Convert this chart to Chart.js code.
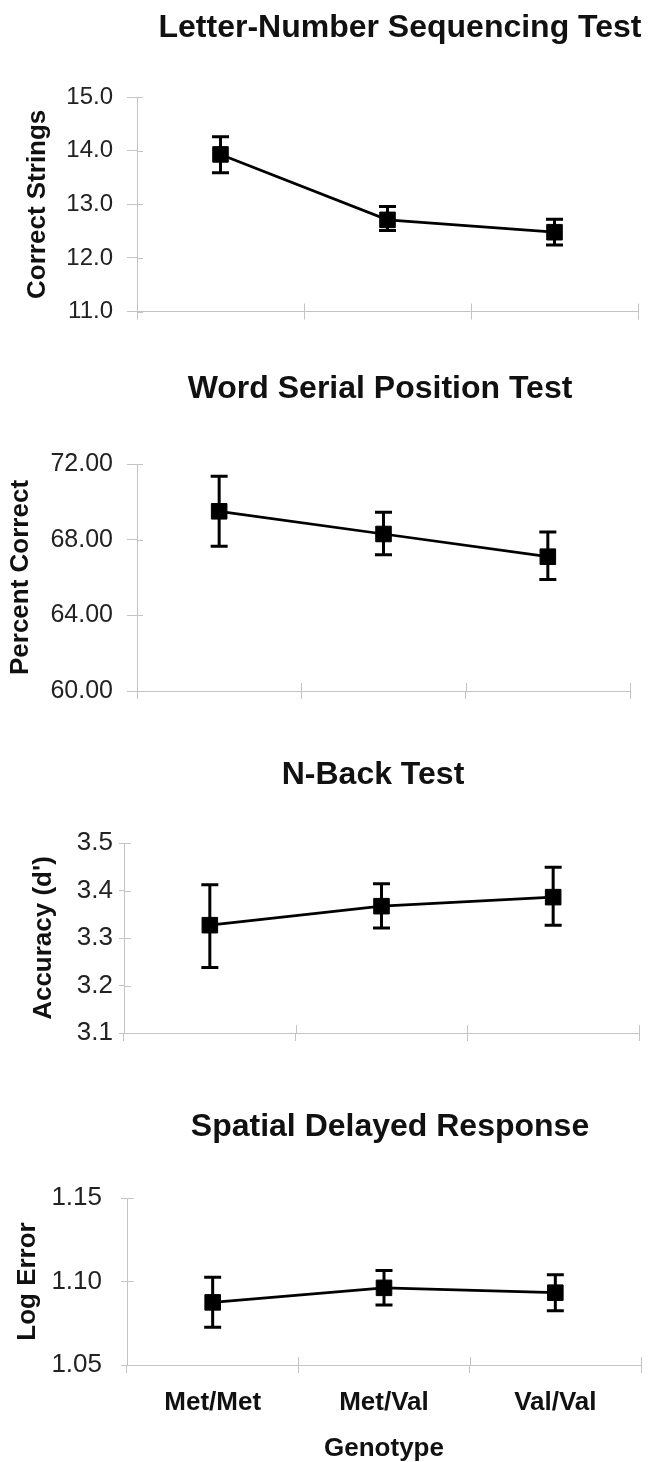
<!DOCTYPE html>
<html>
<head>
<meta charset="utf-8">
<script src="https://cdn.jsdelivr.net/npm/chart.js@4.4.0/dist/chart.umd.min.js"></script>
<style>
  html, body { margin: 0; padding: 0; background: #fff; }
  #wrap { position: relative; width: 653px; height: 1462px; overflow: hidden; }
  canvas { position: absolute; left: 0; }
</style>
</head>
<body>
<div id="wrap">
  <canvas id="lnsChart" width="653" height="340" style="top:0px"></canvas>
  <canvas id="wspChart" width="653" height="370" style="top:350px"></canvas>
  <canvas id="nbackChart" width="653" height="340" style="top:720px"></canvas>
  <canvas id="sdrChart" width="653" height="402" style="top:1060px"></canvas>
</div>
<script>
const genotypes = ['Met/Met', 'Met/Val', 'Val/Val'];

// Letter-Number Sequencing Test (correct strings)
const lnsMean = [13.93, 12.71, 12.48];
const lnsLow  = [13.59, 12.51, 12.24];
const lnsHigh = [14.26, 12.96, 12.72];

// Word Serial Position Test (percent correct)
const wspMean = [69.5, 68.3, 67.1];
const wspLow  = [67.65, 67.2, 65.9];
const wspHigh = [71.35, 69.45, 68.4];

// N-Back Test (accuracy d')
const nbackMean = [3.327, 3.367, 3.386];
const nbackLow  = [3.238, 3.321, 3.327];
const nbackHigh = [3.412, 3.414, 3.449];

// Spatial Delayed Response (log error)
const sdrMean = [1.0875, 1.0962, 1.0933];
const sdrLow  = [1.0726, 1.0860, 1.0825];
const sdrHigh = [1.1026, 1.1066, 1.1040];

const FONT = '"Liberation Sans", Arial, Helvetica, sans-serif';
const axisGray = '#c4c4c4';

const panelTitlePlugin = {
    id: 'panelTitle',
    afterDraw(chart, args, opts) {
        const ctx = chart.ctx;
        ctx.save();
        ctx.fillStyle = '#111';
        ctx.font = 'bold ' + opts.size + 'px ' + FONT;
        ctx.textAlign = 'center';
        ctx.textBaseline = 'alphabetic';
        ctx.fillText(opts.text, opts.x, opts.y);
        ctx.restore();
    }
};

const errorBarPlugin = {
    id: 'errorBars',
    beforeDatasetsDraw(chart, args, opts) {
        const { ctx, scales: { x, y } } = chart;
        ctx.save();
        ctx.strokeStyle = '#000';
        ctx.lineWidth = 3;
        for (let i = 0; i < opts.low.length; i++) {
            const px = x.getPixelForValue(i);
            const yl = y.getPixelForValue(opts.low[i]);
            const yh = y.getPixelForValue(opts.high[i]);
            ctx.beginPath();
            ctx.moveTo(px, yl); ctx.lineTo(px, yh);
            ctx.moveTo(px - 8.5, yl); ctx.lineTo(px + 8.5, yl);
            ctx.moveTo(px - 8.5, yh); ctx.lineTo(px + 8.5, yh);
            ctx.stroke();
        }
        ctx.restore();
    }
};

// tick marks crossing into the plot, like the original axes
const innerTickPlugin = {
    id: 'innerTicks',
    afterDraw(chart, args, opts) {
        const { ctx, chartArea: a, scales: { x, y } } = chart;
        ctx.save();
        ctx.strokeStyle = axisGray;
        ctx.lineWidth = 1;
        ctx.beginPath();
        y.ticks.forEach(t => {
            const py = Math.round(y.getPixelForValue(t.value)) + 0.5;
            ctx.moveTo(a.left, py);
            ctx.lineTo(a.left + opts.yIn, py);
        });
        for (let i = 0; i <= genotypes.length; i++) {
            const px = Math.round(x.getPixelForValue(i - 0.5)) + 0.5;
            ctx.moveTo(px, a.bottom);
            ctx.lineTo(px, a.bottom - 8);
        }
        ctx.stroke();
        ctx.restore();
    }
};

function makePanel(canvasId, p) {
    return new Chart(document.getElementById(canvasId), {
        type: 'line',
        data: {
            labels: genotypes,
            datasets: [{
                data: p.mean,
                borderColor: '#000',
                borderWidth: 2.7,
                pointStyle: 'rect',
                pointRadius: 11,
                pointBackgroundColor: '#000',
                pointBorderColor: '#000',
                pointBorderWidth: 1,
                tension: 0,
                fill: false
            }]
        },
        options: {
            responsive: false,
            animation: false,
            devicePixelRatio: 1,
            events: [],
            layout: { padding: { top: p.plotTop, right: 653 - p.plotRight, left: 0, bottom: 0 } },
            plugins: {
                legend: { display: false },
                tooltip: { enabled: false },
                title: { display: false },
                panelTitle: { text: p.title, x: p.titleX, y: p.titleY, size: 32 },
                errorBars: { low: p.low, high: p.high },
                innerTicks: { yIn: p.yIn }
            },
            scales: {
                x: {
                    type: 'category',
                    offset: true,
                    grid: { offset: true, drawOnChartArea: false, tickLength: 8, color: axisGray, lineWidth: 1 },
                    border: { color: axisGray },
                    ticks: {
                        display: p.showLabels,
                        color: '#111',
                        font: { family: FONT, size: 26, weight: 'bold' },
                        padding: 14
                    },
                    title: {
                        display: p.showLabels,
                        text: 'Genotype',
                        color: '#111',
                        font: { family: FONT, size: 26, weight: 'bold', lineHeight: 1.0 },
                        padding: { top: 0, bottom: 0 }
                    },
                    afterFit: s => { s.height = p.height - p.plotBottom; }
                },
                y: {
                    min: p.min,
                    max: p.max,
                    grid: { drawOnChartArea: false, tickLength: p.tickLen, color: axisGray, lineWidth: 1 },
                    border: { color: axisGray },
                    ticks: {
                        stepSize: p.step,
                        padding: p.tickPad,
                        color: '#222',
                        font: { family: FONT, size: p.tickSize },
                        callback: v => Number(v).toFixed(p.decimals)
                    },
                    title: {
                        display: true,
                        text: p.yTitle,
                        color: '#111',
                        font: { family: FONT, size: 26, weight: 'bold' },
                        padding: { top: p.yTitlePad, bottom: 0 }
                    },
                    afterFit: s => { s.width = p.plotLeft; }
                }
            }
        },
        plugins: [panelTitlePlugin, errorBarPlugin, innerTickPlugin]
    });
}

makePanel('lnsChart', {
    title: 'Letter-Number Sequencing Test', titleX: 400, titleY: 37,
    yTitle: 'Correct Strings', yTitlePad: 22,
    mean: lnsMean, low: lnsLow, high: lnsHigh,
    min: 11, max: 15, step: 1, decimals: 1,
    height: 340, plotTop: 97, plotBottom: 324, plotLeft: 137, plotRight: 638,
    tickLen: 10, yIn: 6, tickPad: 14, tickSize: 24, showLabels: false
});

makePanel('wspChart', {
    title: 'Word Serial Position Test', titleX: 380, titleY: 48,
    yTitle: 'Percent Correct', yTitlePad: 5,
    mean: wspMean, low: wspLow, high: wspHigh,
    min: 60, max: 72, step: 4, decimals: 2,
    height: 370, plotTop: 114, plotBottom: 353, plotLeft: 137, plotRight: 630,
    tickLen: 10, yIn: 6, tickPad: 14, tickSize: 25, showLabels: false
});

makePanel('nbackChart', {
    title: 'N-Back Test', titleX: 373, titleY: 64,
    yTitle: "Accuracy (d')", yTitlePad: 28,
    mean: nbackMean, low: nbackLow, high: nbackHigh,
    min: 3.1, max: 3.5, step: 0.1, decimals: 1,
    height: 340, plotTop: 123, plotBottom: 313, plotLeft: 124, plotRight: 639,
    tickLen: 5, yIn: 7, tickPad: 6, tickSize: 26, showLabels: false
});

makePanel('sdrChart', {
    title: 'Spatial Delayed Response', titleX: 390, titleY: 76,
    yTitle: 'Log Error', yTitlePad: 12,
    mean: sdrMean, low: sdrLow, high: sdrHigh,
    min: 1.05, max: 1.15, step: 0.05, decimals: 2,
    height: 402, plotTop: 138, plotBottom: 305, plotLeft: 127, plotRight: 652,
    tickLen: 6, yIn: 7, tickPad: 19, tickSize: 26, showLabels: true
});
</script>
</body>
</html>
